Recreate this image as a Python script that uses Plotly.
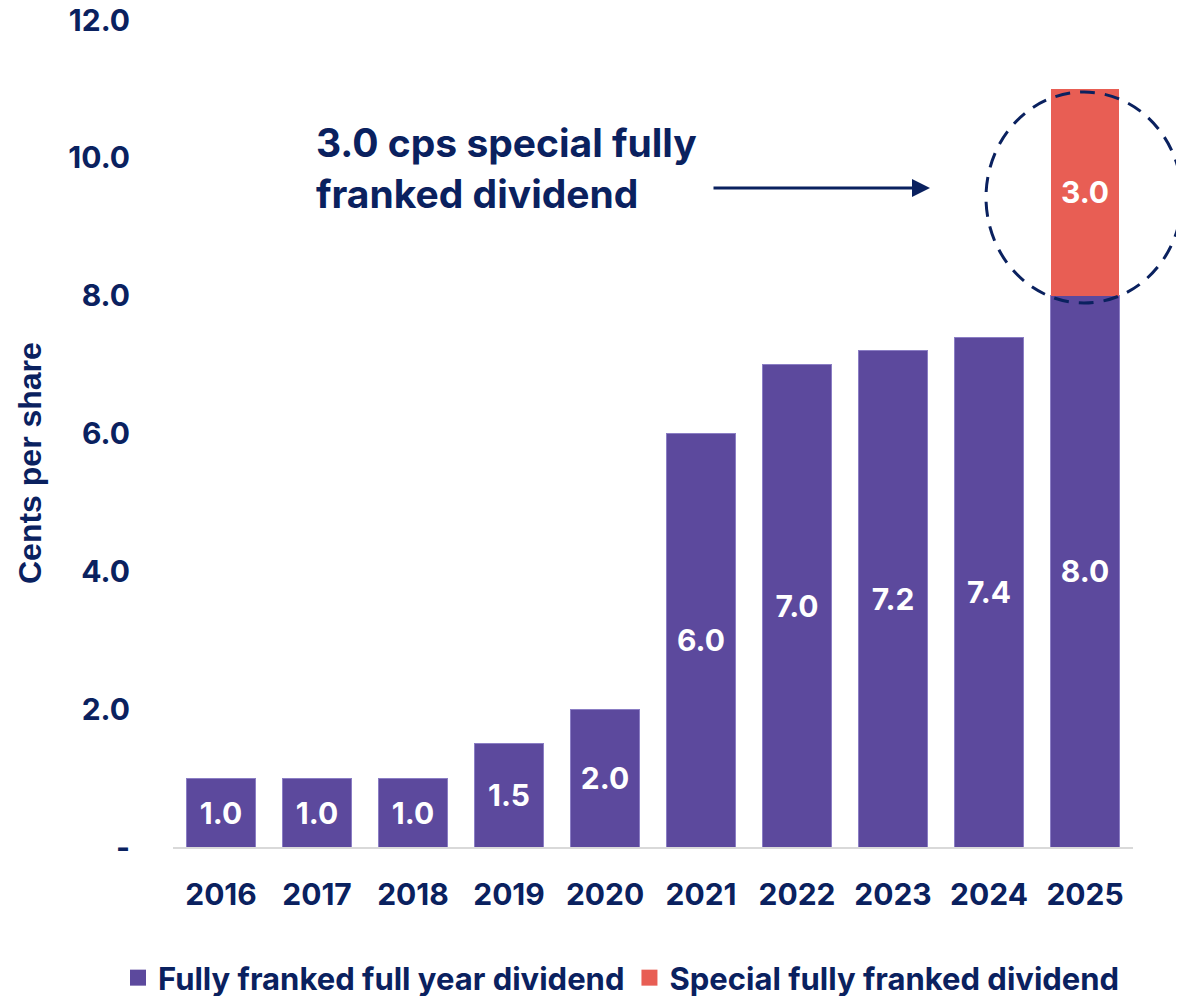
import plotly.graph_objects as go

years = ["2016", "2017", "2018", "2019", "2020", "2021", "2022", "2023", "2024", "2025"]
ordinary = [1.0, 1.0, 1.0, 1.5, 2.0, 6.0, 7.0, 7.2, 7.4, 8.0]
special = [None, None, None, None, None, None, None, None, None, 3.0]
tick_vals = [0, 2, 4, 6, 8, 10, 12]
tick_text = ["-", "2.0", "4.0", "6.0", "8.0", "10.0", "12.0"]

PURPLE = "#5C499D"
RED = "#E85E54"
NAVY = "#0A215F"
FONT = "Inter"

# the page adds an 8px body margin; the figure is sized to fill the rest of the window
OFF = 8

fig = go.Figure()
fig.add_trace(go.Bar(
    x=years, y=ordinary, marker=dict(color=PURPLE, line=dict(color="#8B7EC4", width=1)),
    text=[f"{v:.1f}" for v in ordinary], textposition="inside", insidetextanchor="middle",
    textfont=dict(family=FONT, size=30, color="white", weight="bold"),
    showlegend=False, constraintext="none", name="Fully franked full year dividend"))
fig.add_trace(go.Bar(
    x=years, y=special, marker=dict(color=RED, line=dict(width=0)),
    text=[f"{v:.1f}" if v else "" for v in special], textposition="inside", insidetextanchor="middle",
    textfont=dict(family=FONT, size=30, color="white", weight="bold"),
    showlegend=False, constraintext="none", name="Special fully franked dividend"))

# legend entries
fig.add_trace(go.Scatter(x=[None], y=[None], mode="markers", name="Fully franked full year dividend",
                         marker=dict(symbol="square", size=20, color=PURPLE)))
fig.add_trace(go.Scatter(x=[None], y=[None], mode="markers", name="Special fully franked dividend",
                         marker=dict(symbol="square", size=20, color=RED)))

W, H = 1184 - OFF, 996 - OFF
PL, PT = 173 - OFF, 20 - OFF
fig.update_layout(
    width=W, height=H,
    margin=dict(l=PL, r=W - (1133 - OFF), t=PT, b=H - (847 - OFF), autoexpand=False),
    barmode="stack", bargap=0.29,
    plot_bgcolor="white", paper_bgcolor="white",
    font=dict(family=FONT, color=NAVY, size=30, weight="bold"),
    legend=dict(orientation="h", xref="paper", yref="paper",
                x=(118 - 173) / 960, xanchor="left", y=(847 - 978) / 827, yanchor="middle",
                font=dict(family=FONT, size=31, color=NAVY, weight="bold"),
                itemwidth=30, traceorder="normal", tracegroupgap=0),
    xaxis=dict(showgrid=False, showline=True, linecolor="#D9D9D9", linewidth=2, automargin=False,
               ticks="", ticklabelstandoff=20, tickfont=dict(family=FONT, size=30, color=NAVY, weight="bold"),
               range=[-0.5, 9.5]),
    yaxis=dict(range=[0, 12], tickvals=tick_vals, ticktext=tick_text, showgrid=False, automargin=False,
               zeroline=False, showline=False, ticks="", ticklabelstandoff=42, ticklabeloverflow="allow",
               tickfont=dict(family=FONT, size=30, color=NAVY, weight="bold")),
)

# y-axis title
fig.add_annotation(xref="paper", yref="paper", x=(30 - 173) / 960, y=(847 - 463) / 827,
                   xanchor="center", yanchor="middle", textangle=-90, showarrow=False,
                   text="Cents per share",
                   font=dict(family="Liberation Sans", size=32, color=NAVY, weight="bold"))
# annotation text
fig.add_annotation(xref="paper", yref="paper", x=(314 - 173) / 960, y=(847 - 117) / 827,
                   xanchor="left", yanchor="top", align="left", showarrow=False,
                   text="3.0 cps special fully<br>franked dividend",
                   font=dict(family=FONT, size=39, color=NAVY, weight="bold"))
# arrow
fig.add_annotation(xref="paper", yref="paper", x=(930 - 173) / 960, y=(847 - 188) / 827,
                   ax=-(930 - 712), ay=0, axref="pixel", ayref="pixel",
                   text="", showarrow=True, arrowhead=2, arrowsize=1.2, arrowwidth=3, arrowcolor=NAVY)
# dashed circle
fig.add_shape(type="circle", xref="paper", yref="paper",
              x0=(986 - 173) / 960, x1=(1182 - 173) / 960,
              y0=(847 - 303) / 827, y1=(847 - 92) / 827,
              line=dict(color=NAVY, width=3, dash="15px,10px"), fillcolor="rgba(0,0,0,0)", layer="above")

fig.write_html("out.html")
